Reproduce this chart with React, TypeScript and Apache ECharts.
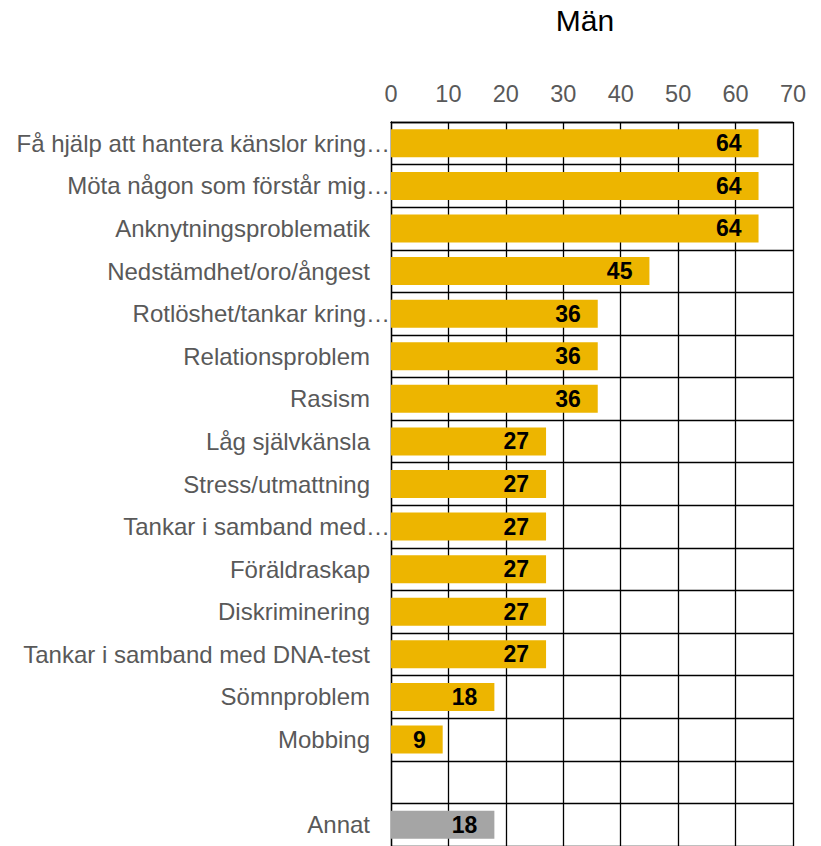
import React, { useEffect, useRef } from "react";
import * as echarts from "echarts";

// Reasons for seeking support, men (percent)
const categories: string[] = [
  "Få hjälp att hantera känslor kring…",
  "Möta någon som förstår mig…",
  "Anknytningsproblematik",
  "Nedstämdhet/oro/ångest",
  "Rotlöshet/tankar kring…",
  "Relationsproblem",
  "Rasism",
  "Låg självkänsla",
  "Stress/utmattning",
  "Tankar i samband med…",
  "Föräldraskap",
  "Diskriminering",
  "Tankar i samband med DNA-test",
  "Sömnproblem",
  "Mobbing",
  "",
  "Annat",
];
const values: (number | null)[] = [64, 64, 64, 45, 36, 36, 36, 27, 27, 27, 27, 27, 27, 18, 9, null, 18];
const otherCategory = "Annat";
const xTicks = { min: 0, max: 70, interval: 10 };
const title = "Män";

const FONT = "'Liberation Sans', Arial, sans-serif";
const MAIN_COLOR = "#EDB500";
const OTHER_COLOR = "#A5A5A5";
const LABEL_SIZE = 24;

export default function App() {
  const ref = useRef<HTMLDivElement>(null);

  useEffect(() => {
    if (!ref.current) return;
    const chart = echarts.init(ref.current, null, { renderer: "svg" });
    const rowH = 42.8;
    chart.setOption({
      animation: false,
      backgroundColor: "#fff",
      title: {
        text: title,
        left: 580,
        top: 0,
        textAlign: "center",
        textStyle: { fontFamily: FONT, fontSize: 30, fontWeight: "normal", color: "#000" },
      },
      grid: { left: 391, right: 28, top: 122, height: rowH * categories.length, containLabel: false },
      xAxis: {
        type: "value",
        position: "top",
        min: xTicks.min,
        max: xTicks.max,
        interval: xTicks.interval,
        axisLine: { show: true, lineStyle: { color: "#000", width: 1.3 } },
        axisTick: { show: false },
        splitLine: { show: true, lineStyle: { color: "#000", width: 1.3 } },
        axisLabel: { margin: 16, fontFamily: FONT, fontSize: 23.5, color: "#595959" },
      },
      yAxis: {
        type: "category",
        inverse: true,
        data: categories,
        axisLine: { show: true, lineStyle: { color: "#000", width: 1.3 } },
        axisTick: { show: false },
        splitLine: { show: true, lineStyle: { color: "#000", width: 1.3 } },
        axisLabel: {
          margin: 1,
          interval: 0,
          fontFamily: FONT,
          fontSize: LABEL_SIZE,
          color: "#595959",
          formatter: (v: string) => (v.endsWith("…") ? `{t|${v}}` : `{n|${v}}`),
          rich: {
            t: { fontFamily: FONT, fontSize: LABEL_SIZE, color: "#595959" },
            n: { fontFamily: FONT, fontSize: LABEL_SIZE, color: "#595959", padding: [0, 20, 0, 0] },
          },
        },
      },
      series: [
        {
          type: "bar",
          barWidth: 28,
          data: values.map((v, i) => ({
            value: v,
            itemStyle: { color: categories[i] === otherCategory ? OTHER_COLOR : MAIN_COLOR },
          })),
          label: {
            show: true,
            position: "insideRight",
            distance: 17,
            fontFamily: FONT,
            fontSize: 23,
            fontWeight: "bold",
            color: "#000",
          },
        },
      ],
    });
    return () => chart.dispose();
  }, []);

  return (
    <div
      ref={ref}
      style={{ position: "absolute", left: 0, top: 0, width: 821, height: 846 }}
    />
  );
}
